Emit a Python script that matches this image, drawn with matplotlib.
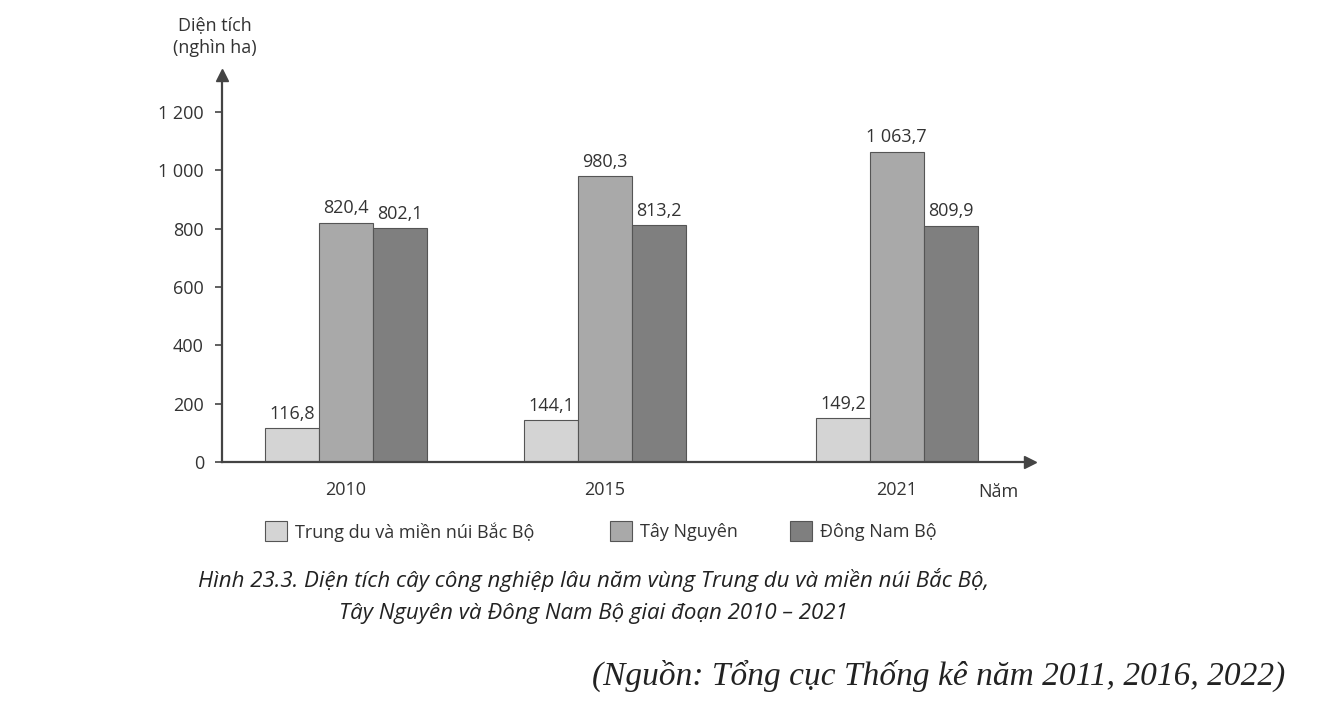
import matplotlib

matplotlib.use("Agg")
import matplotlib.pyplot as plt
from matplotlib.patches import Rectangle

years = [2010, 2015, 2021]
series = ["Trung du và miền núi Bắc Bộ", "Tây Nguyên", "Đông Nam Bộ"]
values = {
    "Trung du và miền núi Bắc Bộ": [116.8, 144.1, 149.2],
    "Tây Nguyên": [820.4, 980.3, 1063.7],
    "Đông Nam Bộ": [802.1, 813.2, 809.9],
}
colors = ["#d4d4d4", "#a9a9a9", "#7f7f7f"]
yticks = [0, 200, 400, 600, 800, 1000, 1200]

# group centres on the x axis (in units of the 2010-2015 gap)
group_pos = [0.0, 1.0, 2.127]


def fmt(v):
    return f"{v:,.1f}".replace(",", " ").replace(".", ",")


plt.rcParams["font.family"] = ["Open Sans", "DejaVu Sans"]
fig = plt.figure(figsize=(13.18, 7.13), dpi=100)
ax = fig.add_axes([0.1684, 0.352, 0.613, 0.543])

w = 54 / 259
for i, name in enumerate(series):
    xs = [p + (i - 1) * w for p in group_pos]
    ax.bar(xs, values[name], width=w, color=colors[i], edgecolor="#555555", lw=0.8)
    for x, v in zip(xs, values[name]):
        ax.text(x, v + 18, fmt(v), ha="center", va="bottom", fontsize=13, color="#333333")

ax.set_xlim(-124 / 259, 684 / 259)
ax.set_ylim(0, 1327)
ax.set_yticks(yticks)
ax.set_yticklabels([f"{t:,}".replace(",", " ") for t in yticks], fontsize=13, color="#333333")
ax.set_xticks(group_pos)
ax.set_xticklabels([str(y) for y in years], fontsize=13, color="#333333")
ax.tick_params(axis="x", length=0, pad=14)
ax.tick_params(axis="y", length=5, width=1.2, color="#444444", pad=8)
for s in ["top", "right"]:
    ax.spines[s].set_visible(False)
for s in ["left", "bottom"]:
    ax.spines[s].set_color("#444444")
    ax.spines[s].set_linewidth(1.6)
ax.plot(1, 0, ">", color="#444444", ms=8, transform=ax.transAxes, clip_on=False)
ax.plot(0, 1, "^", color="#444444", ms=8, transform=ax.transAxes, clip_on=False)

fig.text(215 / 1318, 1 - 25 / 713, "Diện tích", ha="center", va="center", fontsize=13, color="#333333")
fig.text(215 / 1318, 1 - 48 / 713, "(nghìn ha)", ha="center", va="center", fontsize=13, color="#333333")
fig.text(998 / 1318, 1 - 492 / 713, "Năm", ha="center", va="center", fontsize=13, color="#333333")

leg_x = [265, 610, 790]
for x0, name, c in zip(leg_x, series, colors):
    fig.patches.append(Rectangle((x0 / 1318, 1 - 541 / 713), 22 / 1318, 20 / 713,
                                 transform=fig.transFigure, facecolor=c, edgecolor="#555555", lw=0.8))
    fig.text((x0 + 30) / 1318, 1 - 532 / 713, name, ha="left", va="center", fontsize=13, color="#333333")

fig.text(593 / 1318, 1 - 580 / 713,
         "Hình 23.3. Diện tích cây công nghiệp lâu năm vùng Trung du và miền núi Bắc Bộ,",
         ha="center", va="center", fontsize=16, style="italic", color="#222222")
fig.text(593 / 1318, 1 - 613 / 713,
         "Tây Nguyên và Đông Nam Bộ giai đoạn 2010 – 2021",
         ha="center", va="center", fontsize=16, style="italic", color="#222222")
fig.text(1285 / 1318, 1 - 676 / 713,
         "(Nguồn: Tổng cục Thống kê năm 2011, 2016, 2022)",
         ha="right", va="center", fontsize=24, style="italic", family=["Liberation Serif", "DejaVu Serif"],
         color="#222222")

fig.savefig("out.png", dpi=100)
